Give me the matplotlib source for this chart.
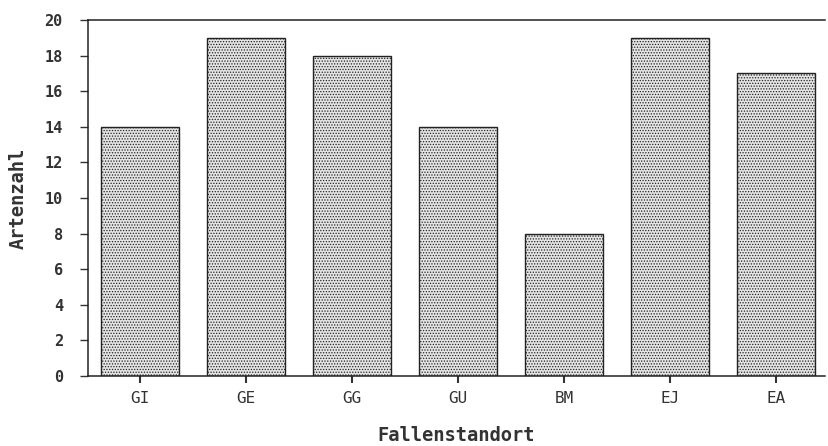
import matplotlib.pyplot as plt
import matplotlib as mpl

categories = ["GI", "GE", "GG", "GU", "BM", "EJ", "EA"]
artenzahl = [14, 19, 18, 14, 8, 19, 17]
yticks = list(range(0, 21, 2))

mpl.rcParams["hatch.color"] = "#8a8a8a"
mpl.rcParams["hatch.linewidth"] = 0.6

fig = plt.figure(figsize=(8.29, 4.46), dpi=100)
ax = fig.add_axes([0.106, 0.157, 0.889, 0.798])

x = list(range(len(categories)))
ax.bar(x, artenzahl, width=0.73, facecolor="#e4e4e4", edgecolor="#222222",
       linewidth=1.0, hatch="......")

ax.set_xlim(-0.49, 6.46)
ax.set_ylim(0, 20)
ax.set_yticks(yticks)
ax.set_yticklabels([str(v) for v in yticks], family="DejaVu Sans Mono",
                   fontweight="bold", fontsize=11, color="#333333")
ax.set_xticks(x)
ax.set_xticklabels(categories, family="DejaVu Sans Mono", fontsize=11.5,
                   color="#333333")
ax.tick_params(axis="y", direction="out", length=6, width=1.0, pad=12,
               color="#333333")
ax.tick_params(axis="x", direction="out", length=5, width=1.5, pad=6,
               color="#333333")

ax.spines["right"].set_visible(False)
for s in ("left", "top", "bottom"):
    ax.spines[s].set_color("#222222")
    ax.spines[s].set_linewidth(1.1)

ax.set_ylabel("Artenzahl", family="DejaVu Sans Mono", fontweight="bold",
              fontsize=13.5, color="#333333", labelpad=12)
ax.set_xlabel("Fallenstandort", family="DejaVu Sans Mono", fontweight="bold",
              fontsize=13.5, color="#333333", labelpad=14)

fig.savefig("out.png", dpi=100, facecolor="white")
